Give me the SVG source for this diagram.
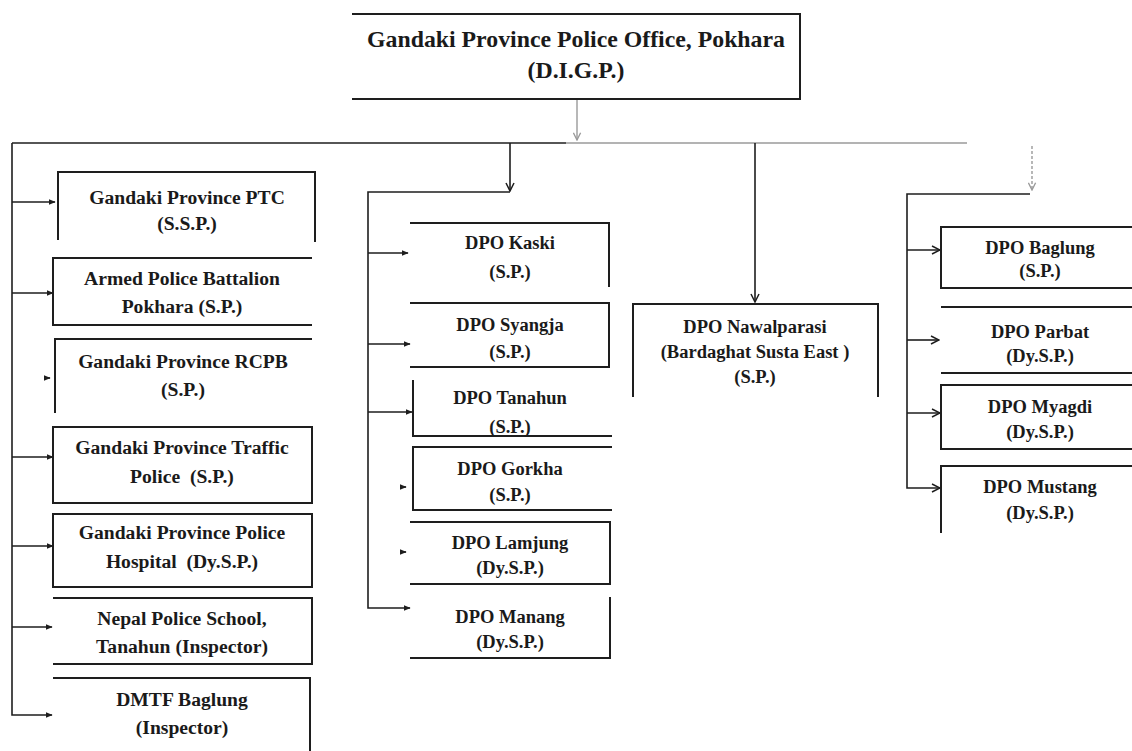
<svg xmlns="http://www.w3.org/2000/svg" width="1132" height="751" viewBox="0 0 1132 751">
<style>
.b{fill:none;stroke:#1e1e1e;stroke-width:2}
.c{fill:none;stroke:#1e1e1e;stroke-width:1.6}
.g{fill:none;stroke:#9a9a9a;stroke-width:1.4}
text{font-family:"Liberation Serif","Times New Roman",serif;font-weight:bold;font-size:18.5px;fill:#1a1a1a;text-anchor:middle}
.t{font-size:23.8px}
.l{font-size:19.6px}
</style>
<defs>
<marker id="af" viewBox="0 0 10 10" refX="9" refY="5" markerWidth="7" markerHeight="7" markerUnits="userSpaceOnUse" orient="auto"><path d="M0,1 L10,5 L0,9 Z" fill="#1e1e1e"/></marker>
<marker id="ao" viewBox="0 0 10 10" refX="9" refY="5" markerWidth="10" markerHeight="10" markerUnits="userSpaceOnUse" orient="auto"><path d="M1,1 L9,5 L1,9" fill="none" stroke="#1e1e1e" stroke-width="1.5"/></marker>
<marker id="ag" viewBox="0 0 10 10" refX="9" refY="5" markerWidth="9" markerHeight="9" markerUnits="userSpaceOnUse" orient="auto"><path d="M1,1 L9,5 L1,9" fill="none" stroke="#9a9a9a" stroke-width="1.5"/></marker>
</defs>
<rect width="1132" height="751" fill="#fff"/>

<g id="connectors">
<path class="g" d="M577,100 V140" marker-end="url(#ag)"/>
<path class="c" d="M12,143 H566"/>
<path class="g" d="M566,143 H967"/>
<path class="c" d="M12,143 V715 H52" marker-end="url(#af)"/>
<path class="c" d="M12,202 H55" marker-end="url(#af)"/>
<path class="c" d="M12,293 H53" marker-end="url(#af)"/>
<path class="c" d="M44,378 H50" marker-end="url(#af)"/>
<path class="c" d="M12,457 H53" marker-end="url(#af)"/>
<path class="c" d="M12,546 H53" marker-end="url(#af)"/>
<path class="c" d="M12,627 H52" marker-end="url(#af)"/>
<path class="c" d="M510,143 V191" marker-end="url(#ao)"/>
<path class="c" d="M510,192 H368 V608 H410" marker-end="url(#af)"/>
<path class="c" d="M368,253 H408" marker-end="url(#af)"/>
<path class="c" d="M368,344 H410" marker-end="url(#af)"/>
<path class="c" d="M368,412 H412" marker-end="url(#af)"/>
<path class="c" d="M400,487 H406" marker-end="url(#af)"/>
<path class="c" d="M400,552 H406" marker-end="url(#af)"/>
<path class="c" d="M755,143 V302" marker-end="url(#ao)"/>
<path class="g" d="M1032,146 V190" stroke-dasharray="3,2" marker-end="url(#ag)"/>
<path class="c" d="M1030,194 H907 V488 H940" marker-end="url(#ao)"/>
<path class="c" d="M907,250 H940" marker-end="url(#ao)"/>
<path class="c" d="M907,340 H939" marker-end="url(#ao)"/>
<path class="c" d="M907,413 H940" marker-end="url(#ao)"/>
</g>

<g id="n-top">
<path class="b" d="M352,14 H800 V99 H352"/>
<text class="t" x="576" y="47">Gandaki Province Police Office, Pokhara</text>
<text class="t" x="576" y="78">(D.I.G.P.)</text>
</g>

<g id="n-ptc" class="l">
<path class="b" d="M58,240 V172 H315 V242"/>
<text class="l" x="187" y="204">Gandaki Province PTC</text>
<text class="l" x="187" y="230">(S.S.P.)</text>
</g>
<g id="n-apb">
<path class="b" d="M312,258 H53 V325 H312"/>
<text class="l" x="182" y="285">Armed Police Battalion</text>
<text class="l" x="182" y="313">Pokhara (S.P.)</text>
</g>
<g id="n-rcpb">
<path class="b" d="M55,413 V339 H312"/>
<text class="l" x="183" y="368">Gandaki Province RCPB</text>
<text class="l" x="183" y="396">(S.P.)</text>
</g>
<g id="n-traffic">
<rect class="b" x="53" y="427" width="259" height="76"/>
<text class="l" x="182" y="454">Gandaki Province Traffic</text>
<text class="l" x="182" y="483" xml:space="preserve">Police  (S.P.)</text>
</g>
<g id="n-hospital">
<rect class="b" x="53" y="514" width="259" height="73"/>
<text class="l" x="182" y="539">Gandaki Province Police</text>
<text class="l" x="182" y="568" xml:space="preserve">Hospital  (Dy.S.P.)</text>
</g>
<g id="n-school">
<path class="b" d="M53,598 H312 V664 H53"/>
<text class="l" x="182" y="625">Nepal Police School,</text>
<text class="l" x="182" y="653">Tanahun (Inspector)</text>
</g>
<g id="n-dmtf">
<path class="b" d="M53,678 H310 V751"/>
<text class="l" x="182" y="706">DMTF Baglung</text>
<text class="l" x="182" y="734">(Inspector)</text>
</g>

<g id="n-kaski">
<path class="b" d="M410,223 H609 V287"/>
<text x="510" y="249">DPO Kaski</text>
<text x="510" y="278">(S.P.)</text>
</g>
<g id="n-syangja">
<path class="b" d="M410,303 H609 V367 H410"/>
<text x="510" y="331">DPO Syangja</text>
<text x="510" y="358">(S.P.)</text>
</g>
<g id="n-tanahun">
<path class="b" d="M413,380 V436 H612"/>
<text x="510" y="404">DPO Tanahun</text>
<text x="510" y="433">(S.P.)</text>
</g>
<g id="n-gorkha">
<path class="b" d="M612,447 H413 V510 H612"/>
<text x="510" y="475">DPO Gorkha</text>
<text x="510" y="501">(S.P.)</text>
</g>
<g id="n-lamjung">
<path class="b" d="M410,522 H610 V584 H410"/>
<text x="510" y="549">DPO Lamjung</text>
<text x="510" y="574">(Dy.S.P.)</text>
</g>
<g id="n-manang">
<path class="b" d="M610,597 V658 H410"/>
<text x="510" y="623">DPO Manang</text>
<text x="510" y="648">(Dy.S.P.)</text>
</g>

<g id="n-nawalparasi">
<path class="b" d="M633,397 V304 H878 V397"/>
<text x="755" y="333">DPO Nawalparasi</text>
<text x="755" y="358">(Bardaghat Susta East )</text>
<text x="755" y="383">(S.P.)</text>
</g>

<g id="n-baglung">
<path class="b" d="M1132,227 H941 V288 H1132"/>
<text x="1040" y="254">DPO Baglung</text>
<text x="1040" y="277">(S.P.)</text>
</g>
<g id="n-parbat">
<path class="b" d="M941,307 H1132 M941,373 H1132"/>
<text x="1040" y="338">DPO Parbat</text>
<text x="1040" y="362">(Dy.S.P.)</text>
</g>
<g id="n-myagdi">
<path class="b" d="M1132,385 H941 V449 H1132"/>
<text x="1040" y="413">DPO Myagdi</text>
<text x="1040" y="438">(Dy.S.P.)</text>
</g>
<g id="n-mustang">
<path class="b" d="M941,533 V466 H1132"/>
<text x="1040" y="493">DPO Mustang</text>
<text x="1040" y="519">(Dy.S.P.)</text>
</g>
</svg>
